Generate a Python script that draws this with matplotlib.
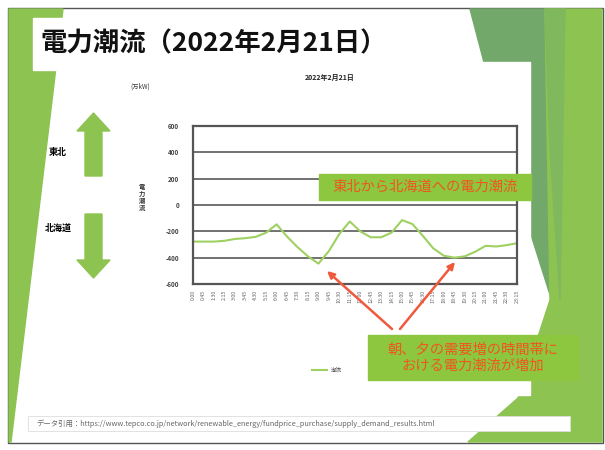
import matplotlib.pyplot as plt
from matplotlib.patches import Polygon, Rectangle, FancyArrow

plt.rcParams['font.family'] = ['Noto Sans CJK JP', 'DejaVu Sans']

# 連系線の潮流 (万kW), 45分ごと
times = ['%d:%02d' % divmod(m, 60) for m in range(0, 24 * 60, 45)]
flow = [-278, -278, -278, -272, -258, -252, -242, -210, -147, -240, -320,
        -390, -445, -350, -220, -125, -200, -245, -245, -210, -115, -145,
        -235, -330, -385, -400, -390, -355, -310, -315, -305, -290]
yticks = [-600, -400, -200, 0, 200, 400, 600]

W, H = 605, 450
fig = plt.figure(figsize=(W / 100, H / 100), dpi=100)

# slide background, drawn in pixel coordinates
bg = fig.add_axes([0, 0, 1, 1], zorder=0)
bg.set_xlim(0, W)
bg.set_ylim(H, 0)
bg.axis('off')

light = '#8dc351'
dark = '#72a96a'
bg.add_patch(Rectangle((8, 8), 595, 435, facecolor='white', edgecolor='#555555', lw=1))
bg.add_patch(Polygon([(9, 9), (63, 9), (11, 442), (9, 442)], color=light))
bg.add_patch(Polygon([(470, 9), (545, 9), (558, 320), (520, 200)], color=dark))
bg.add_patch(Polygon([(545, 9), (602, 9), (602, 442), (468, 442), (518, 398), (550, 300)],
                     color=light))
bg.add_patch(Polygon([(545, 9), (565, 9), (560, 300), (550, 150)], color='#80b85e'))

# title block and chart block
bg.add_patch(Rectangle((33, 18), 350, 52, color='white'))
bg.add_patch(Rectangle((60, 62), 470, 333, color='white'))
bg.text(40, 44, '電力潮流（2022年2月21日）', fontsize=19, fontweight='bold',
        va='center', ha='left', color='#111111')

bg.text(330, 77, '2022年2月21日', fontsize=5, fontweight='bold', ha='center', va='center',
        color='#222222')
bg.text(140, 87, '(万kW)', fontsize=4.5, ha='center', va='center', color='#333333')
bg.text(142, 197, '電\n力\n潮\n流', fontsize=4.5, ha='center', va='center',
        linespacing=0.95, color='#333333', fontweight='bold')

# direction arrows
bg.add_patch(FancyArrow(93.5, 176, 0, -63, width=17, head_width=33, head_length=18,
                        length_includes_head=True, color=light))
bg.add_patch(FancyArrow(93.5, 214, 0, 64, width=17, head_width=33, head_length=18,
                        length_includes_head=True, color=light))
bg.text(58, 153, '東北', fontsize=6.5, fontweight='bold', ha='center', va='center')
bg.text(58, 228, '北海道', fontsize=6.5, fontweight='bold', ha='center', va='center')

# footnote
bg.add_patch(Rectangle((28, 416), 542, 15, facecolor='white', edgecolor='#dddddd', lw=0.6))
bg.text(36, 423.5,
        'データ引用：https://www.tepco.co.jp/network/renewable_energy/fundprice_purchase/supply_demand_results.html',
        fontsize=5.3, ha='left', va='center', color='#666666')

# line chart
ax = fig.add_axes([193 / W, 1 - 284 / H, 324 / W, 158 / H], zorder=1)
ax.set_facecolor('none')
x = range(len(times))
ax.plot(x, flow, color='#9fd062', lw=1.5, label='潮流')
ax.set_xlim(0, len(times) - 1)
ax.set_ylim(-600, 600)
ax.set_yticks(yticks)
ax.set_yticklabels([str(v) for v in yticks], fontsize=4.5, color='#444444', fontweight='bold')
ax.set_xticks(list(x))
ax.set_xticklabels(times, rotation=90, fontsize=3.8, color='#666666')
ax.tick_params(axis='x', length=0, pad=4)
ax.tick_params(axis='y', length=0, pad=10)
ax.grid(axis='y', color='#666666', lw=1.3)
for s in ax.spines.values():
    s.set_color('#555555')
    s.set_linewidth(1.6)

# legend
ov = fig.add_axes([0, 0, 1, 1], zorder=2)
ov.set_xlim(0, W)
ov.set_ylim(H, 0)
ov.axis('off')
ov.plot([312, 327], [370, 370], color='#9fd062', lw=1.5)
ov.text(331, 370, '潮流', fontsize=4, va='center', ha='left', color='#444444')

# callouts
ov.add_patch(Rectangle((319, 174), 212, 26, color='#8dc63f'))
ov.text(425, 187, '東北から北海道への電力潮流', fontsize=10.3, ha='center', va='center',
        color='#f0561e')
ov.add_patch(Rectangle((368, 335), 210, 45, color='#8dc63f'))
ov.text(473, 357.5, '朝、夕の需要増の時間帯に\nおける電力潮流が増加', fontsize=10.3,
        ha='center', va='center', color='#f0561e', linespacing=1.15)

for tip, tail in [((327, 271), (392, 329)), ((455, 262), (400, 329))]:
    ov.annotate('', xy=tip, xytext=tail,
                arrowprops=dict(arrowstyle='-|>', color='#f05a3c', lw=1.8,
                                mutation_scale=10, shrinkA=0, shrinkB=0))

fig.savefig('out.png', dpi=100)
